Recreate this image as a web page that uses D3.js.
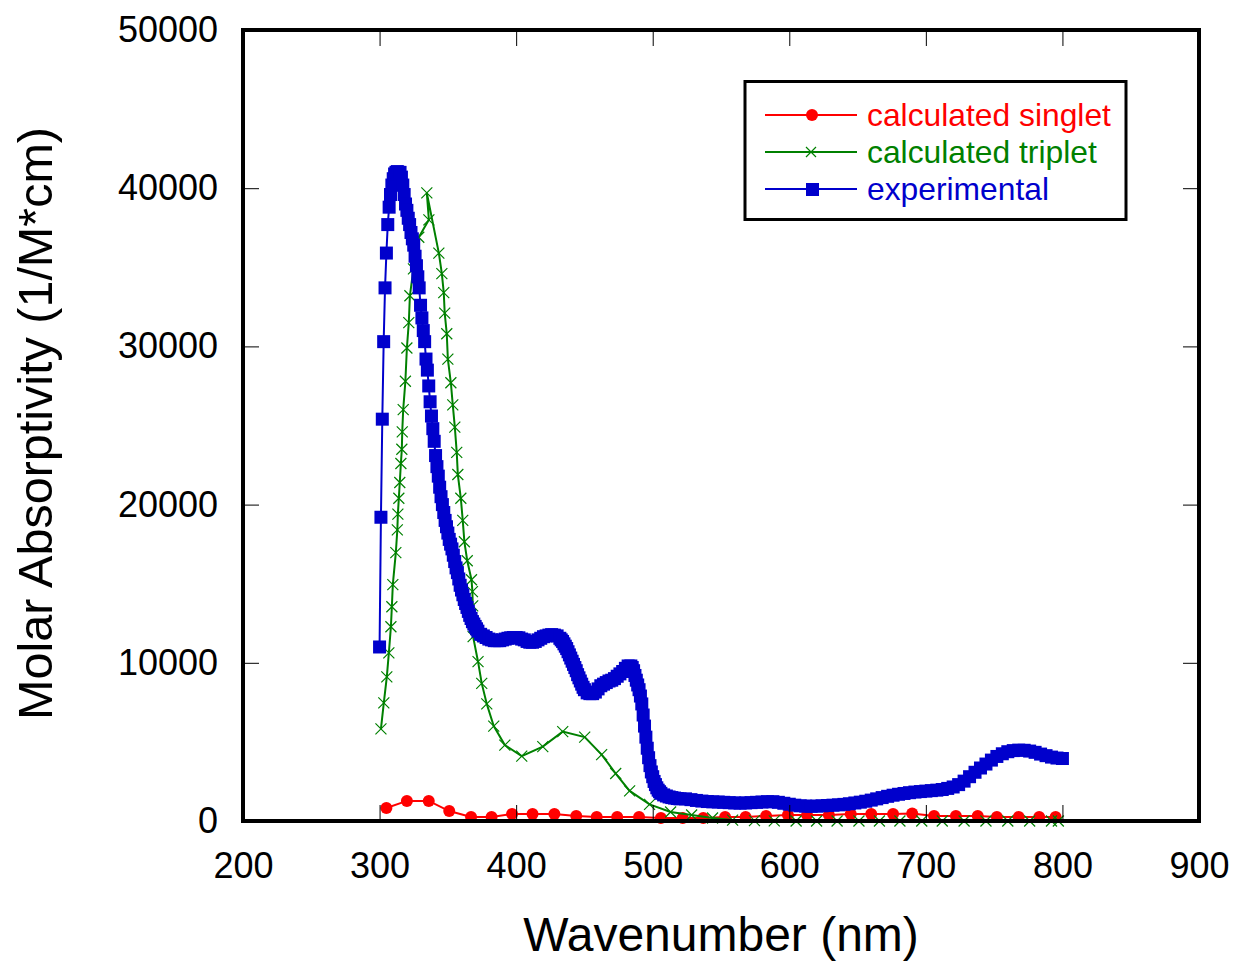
<!DOCTYPE html>
<html>
<head>
<meta charset="utf-8">
<script src="https://cdn.jsdelivr.net/npm/d3@7"></script>
<style>
  html, body { margin: 0; padding: 0; background: #fff; }
  svg { display: block; font-family: "Liberation Sans", Arial, sans-serif; }
</style>
</head>
<body>
<svg id="chart" width="1236" height="963"></svg>
<script>
// Axis ticks
const xTicks = [200, 300, 400, 500, 600, 700, 800, 900];
const yTicks = [0, 10000, 20000, 30000, 40000, 50000];

// Calculated singlet spectrum [wavelength nm, molar absorptivity]
const singlet = [
  [305, 820], [320, 1270], [336, 1270], [351, 630], [367, 250], [382, 250],
  [397, 440], [412, 440], [428, 440], [444, 320], [459, 250], [474, 250],
  [490, 250], [506, 190], [522, 190], [537, 190], [553, 250], [568, 250],
  [583, 320], [599, 380], [613, 380], [629, 380], [645, 440], [660, 440],
  [676, 440], [690, 480], [706, 320], [722, 320], [738, 320], [752, 250],
  [768, 250], [783, 250], [795, 250]
];

// Calculated triplet spectrum [wavelength nm, molar absorptivity]
const triplet = [
  [301.0, 5820], [303.1, 7470], [305.3, 9110], [306.8, 10630], [308.3, 12280],
  [309.0, 13540], [309.7, 14940], [311.9, 16960], [313.0, 18400], [313.4, 19400],
  [314.1, 20400], [314.8, 21400], [315.6, 22600], [316.3, 23500], [316.6, 24600],
  [317.3, 26000], [318.9, 27800], [320.0, 29900], [321.4, 31500], [322.2, 33200],
  [324.8, 34900], [328.7, 36900], [336.1, 38000], [334.6, 39700], [343.4, 35900],
  [345.6, 34600], [347.0, 33400], [347.7, 32100], [349.2, 30800], [350.0, 29200],
  [352.2, 27700], [353.6, 26300], [355.1, 24900], [356.5, 23300], [357.3, 21900],
  [359.5, 20400], [360.9, 19000], [362.1, 17650], [364.2, 16450], [367.3, 15250],
  [368.0, 14500], [368.2, 13600], [368.3, 12650], [368.5, 11650], [372.1, 10070],
  [374.8, 8700], [378.5, 7400], [383.6, 6000], [391.7, 4800], [404.1, 4100],
  [419.5, 4700], [434.1, 5650], [450.2, 5300], [462.6, 4200], [472.9, 3000],
  [483.1, 1900], [497.7, 1050], [513.1, 570], [528.5, 380], [543.8, 190],
  [558.5, 60], [574.5, 20], [589, 10], [605, 0], [620, 0], [635, 0], [651, 0],
  [666, 0], [681, 0], [697, 0], [712, 0], [728, 0], [744, 0], [760, 0],
  [776, 0], [792, 0], [797, 0]
];

// Experimental spectrum [wavelength nm, molar absorptivity]
const experimental = [
  [300, 11000], [301, 19200], [302, 25400], [303, 30300], [304, 33700], [305, 35900],
  [306, 37700], [307, 38800], [308, 39600], [309, 40200], [310, 40600], [311, 40900],
  [312, 41000], [313, 41050], [314, 41000], [315, 41000], [316, 40700], [317, 40200],
  [318, 39600], [319, 39000], [320, 38600], [321, 38100], [322, 37700], [323, 37200],
  [324, 36800], [325, 36400], [326, 35700], [327, 35100], [328, 34400], [329, 33700],
  [330, 32600], [331, 31800], [332, 31000], [333, 30300], [334, 29200], [335, 28500],
  [336, 27500], [337, 26500], [338, 25600], [339, 24800], [340, 24000], [341, 23100],
  [342, 22400], [343, 21800], [344, 21100], [345, 20500], [346, 20000], [347, 19500],
  [348, 19000], [349, 18600], [350, 18200], [351, 17800], [352, 17500], [353, 17200],
  [354, 16800], [355, 16400], [356, 16000], [357, 15700], [358, 15300], [359, 14900],
  [360, 14600], [361, 14300], [362, 14000], [363, 13750], [364, 13500], [365, 13250],
  [366, 13000], [367, 12800], [368, 12600], [369, 12450], [370, 12300], [371, 12150],
  [372, 12000], [374, 11800], [376, 11700], [378, 11600], [380, 11500], [382, 11450],
  [384, 11400], [386, 11400], [388, 11400], [390, 11450], [392, 11500], [394, 11550],
  [396, 11580], [398, 11600], [400, 11600], [402, 11580], [404, 11500], [406, 11450],
  [408, 11350], [410, 11300], [412, 11300], [414, 11350], [416, 11450], [418, 11550],
  [420, 11650], [422, 11700], [424, 11750], [426, 11780], [428, 11750], [430, 11700],
  [432, 11550], [433, 11450], [434, 11350], [435, 11200], [436, 11050], [437, 10900],
  [438, 10700], [439, 10500], [440, 10300], [441, 10100], [442, 9900], [443, 9700],
  [444, 9500], [445, 9250], [446, 9050], [447, 8850], [448, 8650], [449, 8450],
  [450, 8300], [452, 8100], [454, 8050],
  [456, 8050], [458, 8150], [460, 8350], [462, 8550], [464, 8650], [466, 8750],
  [468, 8850], [470, 8900], [472, 9000], [474, 9150], [476, 9300], [478, 9450],
  [480, 9650], [482, 9800], [484, 9800], [485, 9700], [486, 9500], [487, 9200],
  [488, 8900], [489, 8600], [490, 8300], [491, 7900], [492, 7400], [493, 6700],
  [494, 6000], [495, 5300], [496, 4600], [497, 4000], [498, 3500], [499, 3100],
  [500, 2800], [501, 2500], [502, 2300], [503, 2100], [504, 1950], [505, 1850],
  [506, 1750], [508, 1650], [510, 1580], [512, 1520], [514, 1480], [516, 1450],
  [518, 1420], [520, 1400], [524, 1400], [528, 1350], [532, 1300], [536, 1260],
  [540, 1230], [544, 1210], [548, 1200], [552, 1180], [556, 1160], [560, 1140],
  [564, 1130], [568, 1140], [572, 1160], [576, 1180], [580, 1200], [584, 1220],
  [588, 1220], [592, 1180], [596, 1120], [600, 1060], [604, 1000], [608, 960],
  [612, 940], [616, 930], [620, 940], [624, 960], [628, 980], [632, 1000],
  [636, 1020], [640, 1050], [644, 1090], [648, 1140], [652, 1190], [656, 1250],
  [660, 1320], [664, 1400], [668, 1480], [672, 1560], [676, 1630], [680, 1690],
  [684, 1740], [688, 1790], [692, 1830], [696, 1860], [700, 1890], [704, 1920],
  [708, 1950], [712, 1990], [716, 2060], [720, 2150], [724, 2300], [728, 2520],
  [732, 2800], [736, 3080], [740, 3350], [744, 3600], [748, 3850], [752, 4080],
  [756, 4250], [760, 4380], [764, 4450], [768, 4480], [772, 4470], [776, 4420],
  [780, 4340], [784, 4230], [788, 4130], [792, 4040], [796, 3980], [800, 3950]
];

const seriesNames = ["calculated singlet", "calculated triplet", "experimental"];
const seriesColors = ["#ff0000", "#008000", "#0000cc"];

const svg = d3.select("#chart");
const plot = { left: 243, right: 1199, top: 30, bottom: 821 };

const x = d3.scaleLinear().domain([200, 900]).range([plot.left, plot.right]);
const y = d3.scaleLinear().domain([0, 50000]).range([plot.bottom, plot.top]);

const line = d3.line().x(d => x(d[0])).y(d => y(d[1]));

// Data series: singlet, triplet, experimental (experimental on top)
const gSinglet = svg.append("g");
gSinglet.append("path").datum(singlet)
  .attr("d", line).attr("fill", "none")
  .attr("stroke", seriesColors[0]).attr("stroke-width", 2);
gSinglet.selectAll("circle").data(singlet).join("circle")
  .attr("cx", d => x(d[0])).attr("cy", d => y(d[1])).attr("r", 6)
  .attr("fill", seriesColors[0]);

const xMark = (cx, cy, s) => `M${cx - s},${cy - s}L${cx + s},${cy + s}M${cx - s},${cy + s}L${cx + s},${cy - s}`;

const gTriplet = svg.append("g");
gTriplet.append("path").datum(triplet)
  .attr("d", line).attr("fill", "none")
  .attr("stroke", seriesColors[1]).attr("stroke-width", 2);
gTriplet.selectAll("path.mark").data(triplet).join("path")
  .attr("class", "mark")
  .attr("d", d => xMark(x(d[0]), y(d[1]), 5.5))
  .attr("stroke", seriesColors[1]).attr("stroke-width", 1.2).attr("fill", "none");

const sq = 13;
const gExp = svg.append("g");
gExp.append("path").datum(experimental)
  .attr("d", line).attr("fill", "none")
  .attr("stroke", seriesColors[2]).attr("stroke-width", 2);
gExp.selectAll("rect").data(experimental).join("rect")
  .attr("x", d => x(d[0]) - sq / 2).attr("y", d => y(d[1]) - sq / 2)
  .attr("width", sq).attr("height", sq)
  .attr("fill", seriesColors[2]);

// Axes: inward ticks on all four sides
const tickLen = 16;
const fontSize = 36;

const bottomAxis = svg.append("g")
  .attr("transform", `translate(0,${plot.bottom})`)
  .call(d3.axisBottom(x).tickValues(xTicks).tickFormat(d3.format("d"))
    .tickSizeInner(-tickLen).tickSizeOuter(0).tickPadding(31));
const leftAxis = svg.append("g")
  .attr("transform", `translate(${plot.left},0)`)
  .call(d3.axisLeft(y).tickValues(yTicks).tickFormat(d3.format("d"))
    .tickSizeInner(-tickLen).tickSizeOuter(0).tickPadding(25));
const topAxis = svg.append("g")
  .attr("transform", `translate(0,${plot.top})`)
  .call(d3.axisTop(x).tickValues(xTicks).tickFormat("")
    .tickSizeInner(-tickLen).tickSizeOuter(0));
const rightAxis = svg.append("g")
  .attr("transform", `translate(${plot.right},0)`)
  .call(d3.axisRight(y).tickValues(yTicks).tickFormat("")
    .tickSizeInner(-tickLen).tickSizeOuter(0));

[bottomAxis, leftAxis, topAxis, rightAxis].forEach(g => {
  g.select(".domain").remove();
  g.selectAll(".tick line").attr("stroke", "#000").attr("stroke-width", 1);
  g.selectAll(".tick text")
    .attr("fill", "#000")
    .style("font-size", fontSize + "px")
    .style("font-family", "'Liberation Sans', Arial, sans-serif");
});

// Plot frame
svg.append("rect")
  .attr("x", plot.left).attr("y", plot.top)
  .attr("width", plot.right - plot.left).attr("height", plot.bottom - plot.top)
  .attr("fill", "none").attr("stroke", "#000").attr("stroke-width", 4);

// Axis titles
svg.append("text")
  .attr("x", (plot.left + plot.right) / 2).attr("y", 951)
  .attr("text-anchor", "middle")
  .style("font-size", "48px")
  .text("Wavenumber (nm)");

svg.append("text")
  .attr("transform", `translate(52,${(plot.top + plot.bottom) / 2 - 2}) rotate(-90)`)
  .attr("text-anchor", "middle")
  .style("font-size", "48.5px")
  .text("Molar Absorptivity (1/M*cm)");

// Legend
const legend = svg.append("g");
legend.append("rect")
  .attr("x", 745).attr("y", 81.5).attr("width", 381).attr("height", 138)
  .attr("fill", "#fff").attr("stroke", "#000").attr("stroke-width", 3);

const rowY = [115, 152, 189];
seriesNames.forEach((name, i) => {
  const yy = rowY[i];
  legend.append("line")
    .attr("x1", 765).attr("x2", 857).attr("y1", yy).attr("y2", yy)
    .attr("stroke", seriesColors[i]).attr("stroke-width", 2);
  if (i === 0) {
    legend.append("circle").attr("cx", 812).attr("cy", yy).attr("r", 6)
      .attr("fill", seriesColors[i]);
  } else if (i === 1) {
    legend.append("path").attr("d", xMark(811, yy, 5))
      .attr("stroke", seriesColors[i]).attr("stroke-width", 1.2).attr("fill", "none");
  } else {
    legend.append("rect").attr("x", 806).attr("y", yy - 6)
      .attr("width", 13).attr("height", 13).attr("fill", seriesColors[i]);
  }
  legend.append("text")
    .attr("x", 867).attr("y", yy + 11)
    .attr("fill", seriesColors[i])
    .style("font-size", "31.8px")
    .text(name);
});
</script>
</body>
</html>
